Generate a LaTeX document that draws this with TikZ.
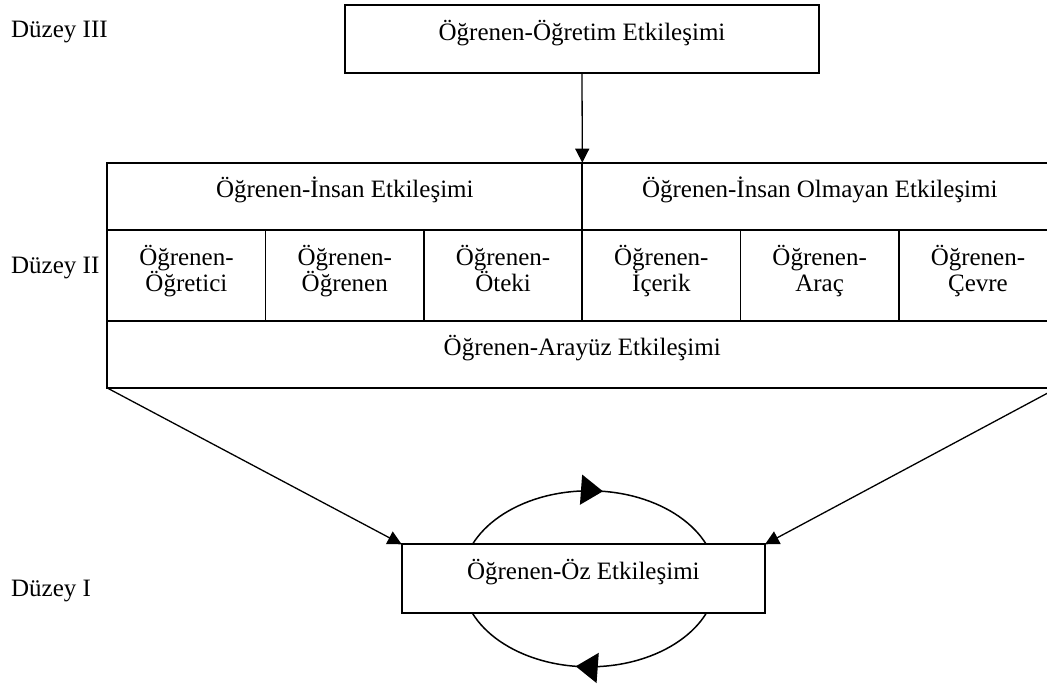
\documentclass[tikz,border=0pt]{standalone}
\usepackage{fontspec}
\setmainfont{Liberation Serif}
\usetikzlibrary{arrows.meta,positioning,backgrounds,decorations.markings}

\begin{document}
\begin{tikzpicture}[
  x=1pt,y=-1pt,
  every node/.style={font=\fontsize{25}{26.7}\selectfont},
  box/.style={draw,fill=white,line width=1.7pt,inner sep=0pt,outer sep=0pt,
    align=center,text height=18pt},
  half/.style={box,minimum width=475pt,minimum height=67.3pt,text depth=15.3pt},
  row/.style={box,minimum width=949.8pt,minimum height=67.3pt,text depth=15.3pt},
  cell/.style={box,minimum width=158.3pt,minimum height=90.7pt,
    text height=45pt,text depth=12.3pt},
  duzey/.style={anchor=base west,inner sep=0pt},
  arr/.style={-{Triangle[length=14pt,width=14pt]},line width=1.3pt},
  ozloop/.style={line width=1.5pt,postaction={decorate},
    decoration={markings,
      mark=at position 0.27 with {\arrow{Triangle[length=22pt,width=30pt]}},
      mark=at position 0.77 with {\arrow{Triangle[length=22pt,width=30pt]}}}}
]
  \useasboundingbox (0,0) rectangle (1047,683);

  % Level III
  \node[box,minimum width=474pt,minimum height=68pt,text depth=16pt,
    anchor=north west] (ogretim) at (345,5) {Öğrenen-Öğretim Etkileşimi};

  % Level II
  \node[half,anchor=north west] (insan) at (107.3,162.7) {Öğrenen-İnsan Etkileşimi};
  \node[half,right=0pt of insan] (insanol) {Öğrenen-İnsan Olmayan Etkileşimi};

  \node[cell,anchor=north west] (ogretici) at (insan.south west) {Öğrenen-\\Öğretici};
  \node[cell,right=0pt of ogretici] (ogrenen) {Öğrenen-\\Öğrenen};
  \node[cell,right=0pt of ogrenen] (oteki) {Öğrenen-\\Öteki};
  \node[cell,right=0pt of oteki] (icerik) {Öğrenen-\\İçerik};
  \node[cell,right=0pt of icerik] (arac) {Öğrenen-\\Araç};
  \node[cell,right=0pt of arac] (cevre) {Öğrenen-\\Çevre};

  \node[row,anchor=north west] (arayuz) at (ogretici.south west) {Öğrenen-Arayüz Etkileşimi};

  % Level I
  \node[box,minimum width=363.3pt,minimum height=69pt,text depth=17pt,
    anchor=north west] (oz) at (401.7,544.3) {Öğrenen-Öz Etkileşimi};

  \begin{scope}[on background layer]
    \draw[ozloop] ([xshift=6pt]oz.center) ellipse [x radius=127, y radius=88];
  \end{scope}

  \draw[arr] (ogretim.south) -- (insan.north east);
  \draw[arr] (arayuz.south west) -- (oz.north west);
  \draw[arr] (arayuz.south east) -- (oz.north east);

  % Levels
  \node[duzey] (d3) at (11,37.7) {Düzey III};
  \node[duzey] (d2) at (11,273.3) {Düzey II};
  \node[duzey] (d1) at (11,596.7) {Düzey I};
\end{tikzpicture}
\end{document}
